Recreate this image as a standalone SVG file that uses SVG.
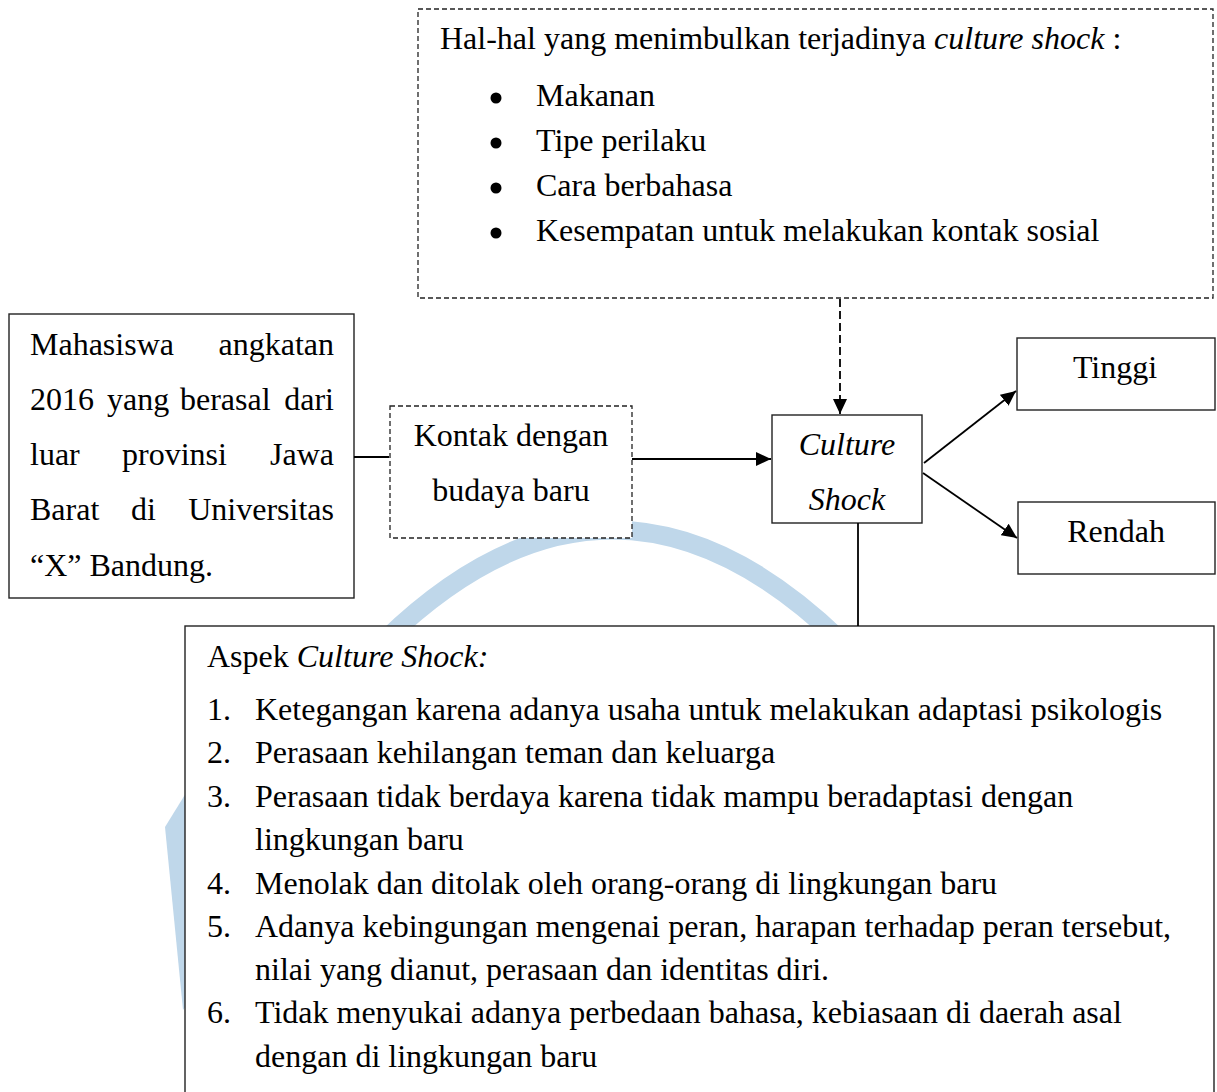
<svg xmlns="http://www.w3.org/2000/svg" width="1217" height="1092" viewBox="0 0 1217 1092">
<style>
.t{font-family:"Liberation Serif","Times New Roman",serif;font-size:32px;fill:#000}
.i{font-style:italic}
.m{text-anchor:middle}
.e{text-anchor:end}
.box{fill:#fff;stroke:#222;stroke-width:1.4}
.dbox{fill:#fff;stroke:#222;stroke-width:1.3;stroke-dasharray:5 3}
.ln{stroke:#000;stroke-width:1.8;fill:none}
.dl{stroke:#000;stroke-width:1.8;fill:none;stroke-dasharray:8 4}
.wm{fill:none;stroke:#bfd7ea;stroke-width:19}
</style>
<defs>
<marker id="arr" markerUnits="userSpaceOnUse" markerWidth="15" markerHeight="14" refX="15" refY="7" orient="auto">
<path d="M0,0 L15,7 L0,14 Z" fill="#000"/>
</marker>
</defs>
<rect width="1217" height="1092" fill="#fff"/>
<g id="watermark">
<path class="wm" d="M385,640 Q612,420 840,640"/>
<polygon points="186,793 165,827 183,1010 186,1006" fill="#bfd7ea"/>
</g>
<g id="factors">
<rect class="dbox" x="418" y="9" width="795" height="289"/>
<text class="t" x="440" y="49">Hal-hal yang menimbulkan terjadinya <tspan class="i">culture shock</tspan> :</text>
<circle cx="496" cy="98" r="5.5"/>
<circle cx="496" cy="143" r="5.5"/>
<circle cx="496" cy="188" r="5.5"/>
<circle cx="496" cy="233" r="5.5"/>
<text class="t" x="536" y="106">Makanan</text>
<text class="t" x="536" y="151">Tipe perilaku</text>
<text class="t" x="536" y="196">Cara berbahasa</text>
<text class="t" x="536" y="241">Kesempatan untuk melakukan kontak sosial</text>
</g>
<g id="mahasiswa">
<rect class="box" x="9" y="314" width="345" height="284"/>
<text class="t" x="30" y="355">Mahasiswa</text>
<text class="t e" x="334" y="355">angkatan</text>
<text class="t" x="30" y="410">2016</text>
<text class="t" x="107" y="410">yang</text>
<text class="t" x="180" y="410">berasal</text>
<text class="t e" x="334" y="410">dari</text>
<text class="t" x="30" y="465">luar</text>
<text class="t" x="122" y="465">provinsi</text>
<text class="t e" x="334" y="465">Jawa</text>
<text class="t" x="30" y="520">Barat</text>
<text class="t" x="131" y="520">di</text>
<text class="t e" x="334" y="520">Universitas</text>
<text class="t" x="30" y="576">“X” Bandung.</text>
</g>
<g id="kontak">
<rect class="dbox" x="390" y="406" width="242" height="132"/>
<text class="t m" x="511" y="446">Kontak dengan</text>
<text class="t m" x="511" y="501">budaya baru</text>
</g>
<g id="cultureshock">
<rect class="box" x="772" y="415" width="150" height="108"/>
<text class="t i m" x="847" y="455">Culture</text>
<text class="t i m" x="847" y="510">Shock</text>
</g>
<g id="tinggi">
<rect class="box" x="1017" y="338" width="198" height="72"/>
<text class="t m" x="1115" y="378">Tinggi</text>
</g>
<g id="rendah">
<rect class="box" x="1018" y="502" width="197" height="72"/>
<text class="t m" x="1116" y="542">Rendah</text>
</g>
<g id="aspek">
<rect class="box" x="185" y="626" width="1029" height="490"/>
<text class="t" x="207" y="667">Aspek <tspan class="i">Culture Shock:</tspan></text>
<text class="t" x="207" y="720">1.</text>
<text class="t" x="255" y="720">Ketegangan karena adanya usaha untuk melakukan adaptasi psikologis</text>
<text class="t" x="207" y="763">2.</text>
<text class="t" x="255" y="763">Perasaan kehilangan teman dan keluarga</text>
<text class="t" x="207" y="807">3.</text>
<text class="t" x="255" y="807">Perasaan tidak berdaya karena tidak mampu beradaptasi dengan</text>
<text class="t" x="255" y="850">lingkungan baru</text>
<text class="t" x="207" y="894">4.</text>
<text class="t" x="255" y="894">Menolak dan ditolak oleh orang-orang di lingkungan baru</text>
<text class="t" x="207" y="937">5.</text>
<text class="t" x="255" y="937">Adanya kebingungan mengenai peran, harapan terhadap peran tersebut,</text>
<text class="t" x="255" y="980">nilai yang dianut, perasaan dan identitas diri.</text>
<text class="t" x="207" y="1023">6.</text>
<text class="t" x="255" y="1023">Tidak menyukai adanya perbedaan bahasa, kebiasaan di daerah asal</text>
<text class="t" x="255" y="1067">dengan di lingkungan baru</text>
</g>
<g id="connectors">
<line class="ln" x1="354" y1="457" x2="389" y2="457"/>
<line class="ln" x1="632" y1="459" x2="771" y2="459" marker-end="url(#arr)"/>
<line class="dl" x1="840" y1="299" x2="840" y2="414" marker-end="url(#arr)"/>
<line class="ln" x1="924" y1="463" x2="1016" y2="391" marker-end="url(#arr)"/>
<line class="ln" x1="923" y1="473" x2="1017" y2="538" marker-end="url(#arr)"/>
<line class="ln" x1="858" y1="523" x2="858" y2="626"/>
</g>
</svg>
